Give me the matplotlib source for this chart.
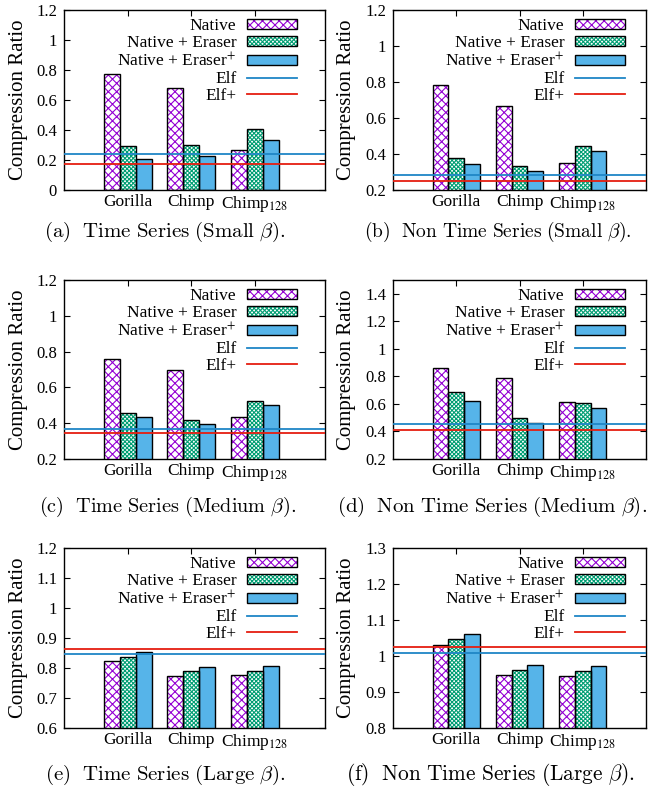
import matplotlib
matplotlib.use('Agg')
import matplotlib.pyplot as plt
from matplotlib.patches import Patch
from matplotlib.lines import Line2D
from matplotlib.legend_handler import HandlerTuple
import numpy as np

plt.rcParams['font.family'] = 'Liberation Serif'
plt.rcParams['mathtext.fontset'] = 'stix'
plt.rcParams['hatch.linewidth'] = 0.8

categories = ['Gorilla', 'Chimp', r'Chimp$_{128}$']
series_names = ['Native', 'Native + Eraser', r'Native + Eraser$^{+}$']

# (a) Time Series (Small beta)
a_native = [0.771, 0.678, 0.264]
a_eraser = [0.293, 0.298, 0.404]
a_eraser_plus = [0.209, 0.227, 0.333]
a_elf, a_elf_plus = 0.238, 0.171

# (b) Non Time Series (Small beta)
b_native = [0.785, 0.665, 0.349]
b_eraser = [0.378, 0.334, 0.442]
b_eraser_plus = [0.345, 0.304, 0.414]
b_elf, b_elf_plus = 0.286, 0.252

# (c) Time Series (Medium beta)
c_native = [0.759, 0.696, 0.434]
c_eraser = [0.456, 0.416, 0.523]
c_eraser_plus = [0.434, 0.395, 0.499]
c_elf, c_elf_plus = 0.367, 0.345

# (d) Non Time Series (Medium beta)
d_native = [0.861, 0.790, 0.613]
d_eraser = [0.683, 0.499, 0.606]
d_eraser_plus = [0.623, 0.462, 0.569]
d_elf, d_elf_plus = 0.455, 0.411

# (e) Time Series (Large beta)
e_native = [0.823, 0.774, 0.776]
e_eraser = [0.837, 0.790, 0.790]
e_eraser_plus = [0.852, 0.804, 0.806]
e_elf, e_elf_plus = 0.847, 0.862

# (f) Non Time Series (Large beta)
f_native = [1.031, 0.946, 0.944]
f_eraser = [1.047, 0.961, 0.958]
f_eraser_plus = [1.061, 0.976, 0.973]
f_elf, f_elf_plus = 1.009, 1.026

captions = [
    r'$\mathrm{(a)\ \ Time\ Series\ (Small\ }\beta\mathrm{).}$',
    r'$\mathrm{(b)\ \ Non\ Time\ Series\ (Small\ }\beta\mathrm{).}$',
    r'$\mathrm{(c)\ \ Time\ Series\ (Medium\ }\beta\mathrm{).}$',
    r'$\mathrm{(d)\ \ Non\ Time\ Series\ (Medium\ }\beta\mathrm{).}$',
    r'$\mathrm{(e)\ \ Time\ Series\ (Large\ }\beta\mathrm{).}$',
    r'$\mathrm{(f)\ \ Non\ Time\ Series\ (Large\ }\beta\mathrm{).}$',
]
caption_x = [165, 498, 168, 492, 165, 490]
caption_size = [15, 14, 14.6, 15, 15, 15.4]

panels = [
    (a_native, a_eraser, a_eraser_plus, a_elf, a_elf_plus, (0, 1.2), np.arange(0, 1.21, 0.2)),
    (b_native, b_eraser, b_eraser_plus, b_elf, b_elf_plus, (0.2, 1.2), np.arange(0.2, 1.21, 0.2)),
    (c_native, c_eraser, c_eraser_plus, c_elf, c_elf_plus, (0.2, 1.2), np.arange(0.2, 1.21, 0.2)),
    (d_native, d_eraser, d_eraser_plus, d_elf, d_elf_plus, (0.2, 1.5), np.arange(0.2, 1.41, 0.2)),
    (e_native, e_eraser, e_eraser_plus, e_elf, e_elf_plus, (0.6, 1.2), np.arange(0.6, 1.21, 0.1)),
    (f_native, f_eraser, f_eraser_plus, f_elf, f_elf_plus, (0.8, 1.3), np.arange(0.8, 1.31, 0.1)),
]

purple = '#9400D3'
green = '#009E73'
skyblue = '#56B4E9'
elf_color = '#1f86c6'
elfp_color = '#E51E10'

# face, hatch colour, hatch
styles = [
    ('white', purple, 'xxxx'),
    ('white', green, 'xxxxxxxx'),
    (skyblue, skyblue, None),
]

fig = plt.figure(figsize=(6.59, 7.87), dpi=100)
W, H = 659, 787
rows = [(10, 190), (280, 459), (548, 728)]
# left, right, xmax, legend anchor x, ylabel x
cols = [(64, 325, 3.1, 0.893, -0.176), (393, 646, 3.0, 0.917, -0.184)]
caption_y = [232, 507, 775]

x = np.arange(len(categories))
bw = 0.25

for i, (nat, era, erp, elf, elfp, ylim, yticks) in enumerate(panels):
    r, c = divmod(i, 2)
    top, bot = rows[r]
    left, right, xmax, leg_x, ylab_x = cols[c]
    ax = fig.add_axes([left / W, 1 - bot / H, (right - left) / W, (bot - top) / H])

    handles = []
    for k, vals in enumerate([nat, era, erp]):
        face, hcol, hatch = styles[k]
        xs = x + (k - 1) * bw
        ax.bar(xs, vals, bw, color=face, edgecolor=hcol, hatch=hatch, linewidth=0, zorder=2)
        ax.bar(xs, vals, bw, fill=False, edgecolor='black', linewidth=1.0, zorder=3)
        handles.append((Patch(facecolor=face, edgecolor=hcol, hatch=hatch, linewidth=0),
                        Patch(fill=False, edgecolor='black', linewidth=1.0)))

    ax.axhline(elf, color=elf_color, linewidth=1.3, zorder=4)
    ax.axhline(elfp, color=elfp_color, linewidth=1.3, zorder=4)
    handles.append(Line2D([], [], color=elf_color, linewidth=1.3))
    handles.append(Line2D([], [], color=elfp_color, linewidth=1.3))

    ax.set_xlim(-1, xmax)
    ax.set_ylim(*ylim)
    ax.set_yticks(yticks)
    ax.set_yticklabels([f'{round(v, 2):g}' for v in yticks])
    ax.set_xticks(x)
    ax.set_xticklabels(categories)
    ax.tick_params(direction='in', length=4, width=0.8, top=True, right=True,
                   labelsize=12, pad=5)
    ax.tick_params(axis='x', labelsize=12.5, pad=3)
    for s in ax.spines.values():
        s.set_linewidth(1.0)
    ax.set_ylabel('Compression Ratio', fontsize=15, va='center')
    ax.yaxis.set_label_coords(ylab_x, 0.5)

    ax.legend(handles, series_names + ['Elf', 'Elf+'],
              handler_map={tuple: HandlerTuple(ndivide=1, pad=0)},
              loc='upper right', bbox_to_anchor=(leg_x, 0.955),
              frameon=False, markerfirst=False, fontsize=12.5,
              handlelength=2.9, handleheight=0.55, handletextpad=0.6,
              labelspacing=0.05, borderpad=0, borderaxespad=0)

    fig.text(caption_x[i] / W, 1 - caption_y[r] / H, captions[i], ha='center', va='center',
             fontsize=caption_size[i], math_fontfamily='cm')

fig.savefig('out.png', dpi=100)
